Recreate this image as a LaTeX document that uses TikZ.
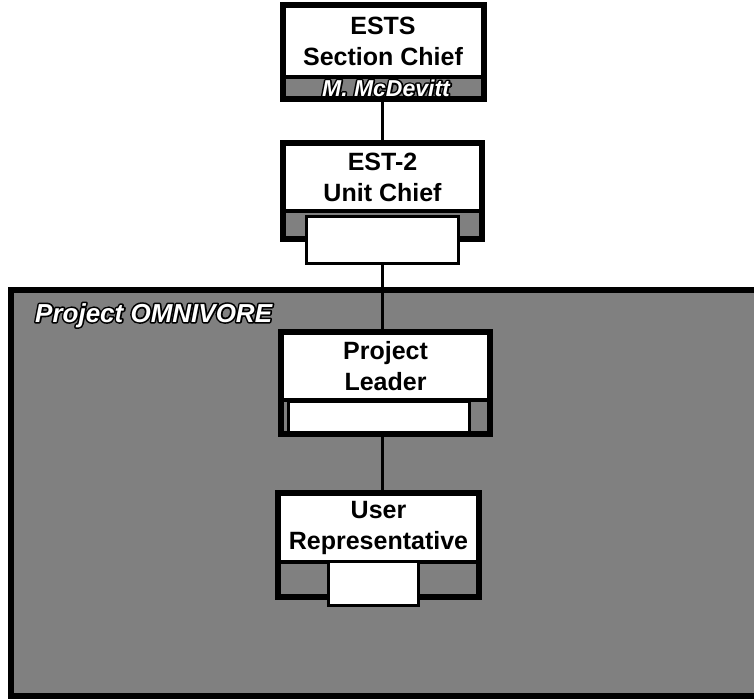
\documentclass[tikz,border=0pt]{standalone}
\usepackage{fontspec}
\setmainfont{Liberation Sans}
\definecolor{stipple}{gray}{0.5}
% white letters with a black outline
\newcommand{\outlinetext}[1]{\rlap{\special{pdf:literal direct 1 Tr 3.2 w 1 j 0 0 0 RG}#1\special{pdf:literal direct 0 Tr}}#1}
\begin{document}
\begin{tikzpicture}[x=1pt,y=-1pt,
  box/.style={draw=black,line width=6pt,fill=stipple,inner sep=0pt},
  titlebox/.style={fill=white,inner sep=0pt,align=center,font=\fontsize{25}{31}\selectfont\bfseries},
  subbox/.style={draw=black,line width=3pt,fill=white,inner sep=0pt},
  sepline/.style={line width=4pt},
  link/.style={line width=3pt},
  outlined/.style={text=white,inner sep=0pt,font=\fontsize{#1}{#1}\selectfont\bfseries\itshape}]
\useasboundingbox (0,0) rectangle (754,700);
% project frame
\node[box,minimum width=749,minimum height=406,anchor=north west] (omnivore) at (8,287) {};
\node[outlined=26,anchor=base west] (omnivore label) at (35,322) {\outlinetext{Project OMNIVORE}};
% section chief
\node[box,minimum width=201,minimum height=94] (ests) at (383,52) {};
\node[titlebox,minimum width=195,minimum height=67] (ests title) at (383,41.5) {ESTS\\Section Chief};
\draw[sepline] ([yshift=-2pt]ests title.south west) -- ([yshift=-2pt]ests title.south east);
\node[outlined=23] (ests name) at (386,88) {\outlinetext{M. McDevitt}};
% unit chief
\node[box,minimum width=199,minimum height=96] (est2) at (382.5,191) {};
\node[titlebox,minimum width=193,minimum height=63] (est2 title) at (382.5,177.5) {EST-2\\Unit Chief};
\draw[sepline] ([yshift=-2pt]est2 title.south west) -- ([yshift=-2pt]est2 title.south east);
\node[subbox,minimum width=152,minimum height=47] (est2 sub) at (382.5,240) {};
% project leader
\node[box,minimum width=209,minimum height=102] (leader) at (385.5,383) {};
\node[titlebox,minimum width=203,minimum height=63] (leader title) at (385.5,366.5) {Project\\Leader};
\draw[sepline] ([yshift=-2pt]leader title.south west) -- ([yshift=-2pt]leader title.south east);
\node[subbox,minimum width=181,minimum height=31] (leader sub) at (379,417) {};
% user representative
\node[box,minimum width=201,minimum height=104] (user) at (378.5,545) {};
\node[titlebox,minimum width=195,minimum height=64] (user title) at (378.5,528) {User\\Representative};
\draw[sepline] ([yshift=-2pt]user title.south west) -- ([yshift=-2pt]user title.south east);
\node[subbox,minimum width=90,minimum height=44] (user sub) at (373.5,583.5) {};
% connectors
\coordinate (spine) at (382,0);
\draw[link] (ests.south -| spine) -- (est2.north -| spine);
\draw[link] (est2 sub.south -| spine) -- (leader.north -| spine);
\draw[link] (leader.south -| spine) -- (user.north -| spine);
\end{tikzpicture}
\end{document}
